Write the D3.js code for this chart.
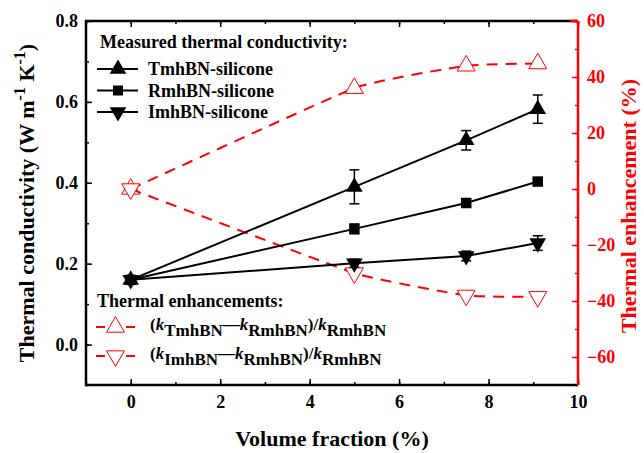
<!DOCTYPE html>
<html>
<head>
<meta charset="utf-8">
<script src="https://cdn.jsdelivr.net/npm/d3@7"></script>
<style>
  body { margin: 0; background: #fff; }
  svg text { font-family: "Liberation Serif", "Times New Roman", "DejaVu Serif", serif; font-weight: bold; }
</style>
</head>
<body>
<div id="chart"></div>
<script>
// volume fractions (%)
const fractions = [0, 5, 7.5, 9.1];

// thermal conductivity (W m-1 K-1) and error bar half widths
const tmhK = [0.16, 0.39, 0.505, 0.582];
const tmhErr = [0.006, 0.042, 0.024, 0.035];
const rmhK = [0.16, 0.286, 0.35, 0.403];
const rmhErr = [0.006, 0.012, 0.008, 0.006];
const imhK = [0.16, 0.201, 0.219, 0.251];
const imhErr = [0.006, 0.01, 0.012, 0.018];

// thermal enhancement (%)
const tEnh = [0, 36, 44, 44.8];
const iEnh = [0, -30, -38, -38.5];

const leftTicks = [0.0, 0.2, 0.4, 0.6, 0.8];
const rightTicks = [-60, -40, -20, 0, 20, 40, 60];
const xTicks = [0, 2, 4, 6, 8, 10];

const w = 644, h = 453;
const m = {left: 86, right: 578, top: 21, bottom: 385};
const red = "#ff0000";
const serif = "'Liberation Serif', 'Times New Roman', serif";

const svg = d3.select("#chart").append("svg")
  .attr("width", w).attr("height", h);

const x = d3.scaleLinear().domain([-1, 10]).range([m.left, m.right]);
const yL = d3.scaleLinear().domain([-0.1, 0.8]).range([m.bottom, m.top]);
const yR = d3.scaleLinear().domain([-70, 60]).range([m.bottom, m.top]);

// axes, ticks pointing inwards
const xMinor = d3.range(-1, 10.01, 1);
svg.append("g").attr("transform", "translate(0," + m.bottom + ")")
  .call(d3.axisBottom(x).tickValues(xMinor).tickSize(-3).tickFormat(""))
  .call(g => g.select(".domain").remove());
svg.append("g").attr("transform", "translate(0," + m.bottom + ")")
  .call(d3.axisBottom(x).tickValues(xTicks).tickSize(-6).tickPadding(10).tickFormat(d3.format("d")))
  .call(g => g.select(".domain").remove())
  .selectAll("text").attr("font-size", 18).attr("fill", "#000");

svg.append("g").attr("transform", "translate(0," + m.top + ")")
  .call(d3.axisTop(x).tickValues(xMinor).tickSize(-3).tickFormat(""))
  .call(g => g.select(".domain").remove());
svg.append("g").attr("transform", "translate(0," + m.top + ")")
  .call(d3.axisTop(x).tickValues(xTicks).tickSize(-6).tickFormat(""))
  .call(g => g.select(".domain").remove());

svg.append("g").attr("transform", "translate(" + m.left + ",0)")
  .call(d3.axisLeft(yL).tickValues(d3.range(-0.1, 0.81, 0.1)).tickSize(-3).tickFormat(""))
  .call(g => g.select(".domain").remove());
svg.append("g").attr("transform", "translate(" + m.left + ",0)")
  .call(d3.axisLeft(yL).tickValues(leftTicks).tickSize(-6).tickPadding(8).tickFormat(d3.format(".1f")))
  .call(g => g.select(".domain").remove())
  .selectAll("text").attr("font-size", 18).attr("fill", "#000");

svg.append("g").attr("transform", "translate(" + m.right + ",0)")
  .call(d3.axisRight(yR).tickValues(d3.range(-70, 61, 10)).tickSize(-3).tickFormat(""))
  .call(g => g.select(".domain").remove())
  .selectAll("line").attr("stroke", red);
svg.append("g").attr("transform", "translate(" + m.right + ",0)")
  .call(d3.axisRight(yR).tickValues(rightTicks).tickSize(-6).tickPadding(9).tickFormat(d3.format("d")))
  .call(g => g.select(".domain").remove())
  .call(g => g.selectAll("line").attr("stroke", red))
  .selectAll("text").attr("font-size", 18).attr("fill", red);

svg.selectAll(".tick line").attr("stroke-width", 1.5);
svg.selectAll("g").attr("font-family", serif);

// frame
svg.append("path")
  .attr("d", `M${m.right},${m.top}H${m.left}V${m.bottom}H${m.right}`)
  .attr("fill", "none").attr("stroke", "#000").attr("stroke-width", 2.5);
svg.append("line")
  .attr("x1", m.right).attr("x2", m.right).attr("y1", m.top).attr("y2", m.bottom)
  .attr("stroke", red).attr("stroke-width", 2.5);
svg.append("line")
  .attr("x1", m.right - 8).attr("x2", m.right).attr("y1", m.top).attr("y2", m.top)
  .attr("stroke", red).attr("stroke-width", 2.5);

// axis titles
svg.append("text").attr("x", 332).attr("y", 446)
  .attr("text-anchor", "middle").attr("font-size", 22).text("Volume fraction (%)");

const yTitle = svg.append("text")
  .attr("transform", "translate(34,203) rotate(-90)")
  .attr("text-anchor", "middle").attr("font-size", 22);
yTitle.append("tspan").text("Thermal conductivity (W m");
yTitle.append("tspan").attr("dy", -9).attr("font-size", 16).text("-1");
yTitle.append("tspan").attr("dy", 9).text(" K");
yTitle.append("tspan").attr("dy", -9).attr("font-size", 16).text("-1");
yTitle.append("tspan").attr("dy", 9).text(")");

svg.append("text")
  .attr("transform", "translate(636,206) rotate(-90)")
  .attr("text-anchor", "middle").attr("font-size", 22).attr("fill", red)
  .text("Thermal enhancement (%)");

function series(vals, errs, symType, size, rotate) {
  const pts = fractions.map((f, i) => ({x: f, y: vals[i], e: errs[i]}));
  svg.append("path").datum(pts)
    .attr("fill", "none").attr("stroke", "#000").attr("stroke-width", 2)
    .attr("d", d3.line().x(d => x(d.x)).y(d => yL(d.y)));
  const eb = svg.append("g");
  pts.forEach(d => {
    const cx = x(d.x);
    eb.append("line").attr("x1", cx).attr("x2", cx)
      .attr("y1", yL(d.y + d.e)).attr("y2", yL(d.y - d.e))
      .attr("stroke", "#000").attr("stroke-width", 1.5);
    [d.y + d.e, d.y - d.e].forEach(v => {
      eb.append("line").attr("x1", cx - 5).attr("x2", cx + 5)
        .attr("y1", yL(v)).attr("y2", yL(v))
        .attr("stroke", "#000").attr("stroke-width", 1.5);
    });
  });
  svg.append("g").selectAll("path").data(pts).join("path")
    .attr("d", d3.symbol().type(symType).size(size))
    .attr("transform", d => `translate(${x(d.x)},${yL(d.y)}) rotate(${rotate})`)
    .attr("fill", "#000");
}

// enhancement curves (red dashed, open triangles)
function enh(vals, rotate) {
  const pts = fractions.map((f, i) => ({x: f, y: vals[i]}));
  svg.append("path").datum(pts)
    .attr("fill", "none").attr("stroke", red).attr("stroke-width", 2)
    .attr("stroke-dasharray", "11,8")
    .attr("d", d3.line().curve(d3.curveCardinal.tension(0.6)).x(d => x(d.x)).y(d => yR(d.y)));
  svg.append("g").selectAll("path").data(pts).join("path")
    .attr("d", d3.symbol().type(d3.symbolTriangle).size(140))
    .attr("transform", d => `translate(${x(d.x)},${yR(d.y)}) rotate(${rotate})`)
    .attr("fill", "#fff").attr("stroke", red).attr("stroke-width", 1);
}
enh(tEnh, 0);
enh(iEnh, 180);

series(rmhK, rmhErr, d3.symbolSquare, 110, 0);
series(imhK, imhErr, d3.symbolTriangle, 120, 180);
series(tmhK, tmhErr, d3.symbolTriangle, 120, 0);

// legend: measured
svg.append("text").attr("x", 100).attr("y", 48).attr("font-size", 18)
  .text("Measured thermal conductivity:");
const measured = [
  {name: "TmhBN-silicone", type: d3.symbolTriangle, size: 120, rot: 0},
  {name: "RmhBN-silicone", type: d3.symbolSquare, size: 100, rot: 0},
  {name: "ImhBN-silicone", type: d3.symbolTriangle, size: 120, rot: 180}
];
measured.forEach((d, i) => {
  const ly = 69 + i * 21.5;
  svg.append("line").attr("x1", 97).attr("x2", 138).attr("y1", ly).attr("y2", ly)
    .attr("stroke", "#000").attr("stroke-width", 2);
  svg.append("path").attr("d", d3.symbol().type(d.type).size(d.size))
    .attr("transform", `translate(118,${ly}) rotate(${d.rot})`).attr("fill", "#000");
  svg.append("text").attr("x", 148).attr("y", ly + 6).attr("font-size", 18).text(d.name);
});

// legend: enhancements
svg.append("text").attr("x", 97).attr("y", 307).attr("font-size", 18)
  .text("Thermal enhancements:");
const enhLegend = [
  {a: "TmhBN", rot: 0},
  {a: "ImhBN", rot: 180}
];
enhLegend.forEach((d, i) => {
  const ly = 327 + i * 29;
  svg.append("line").attr("x1", 96).attr("x2", 105).attr("y1", ly).attr("y2", ly)
    .attr("stroke", red).attr("stroke-width", 2);
  svg.append("line").attr("x1", 126).attr("x2", 135).attr("y1", ly).attr("y2", ly)
    .attr("stroke", red).attr("stroke-width", 2);
  svg.append("path").attr("d", d3.symbol().type(d3.symbolTriangle).size(140))
    .attr("transform", `translate(115.5,${ly}) rotate(${d.rot})`)
    .attr("fill", "#fff").attr("stroke", red).attr("stroke-width", 1);
  const t = svg.append("text").attr("x", 150).attr("y", ly + 3).attr("font-size", 17);
  t.append("tspan").text("(");
  t.append("tspan").attr("font-style", "italic").text("k");
  t.append("tspan").attr("dy", 6).text(d.a);
  t.append("tspan").attr("dy", -6).text("—");
  t.append("tspan").attr("font-style", "italic").text("k");
  t.append("tspan").attr("dy", 6).text("RmhBN");
  t.append("tspan").attr("dy", -6).text(")/");
  t.append("tspan").attr("font-style", "italic").text("k");
  t.append("tspan").attr("dy", 6).text("RmhBN");
});
</script>
</body>
</html>
